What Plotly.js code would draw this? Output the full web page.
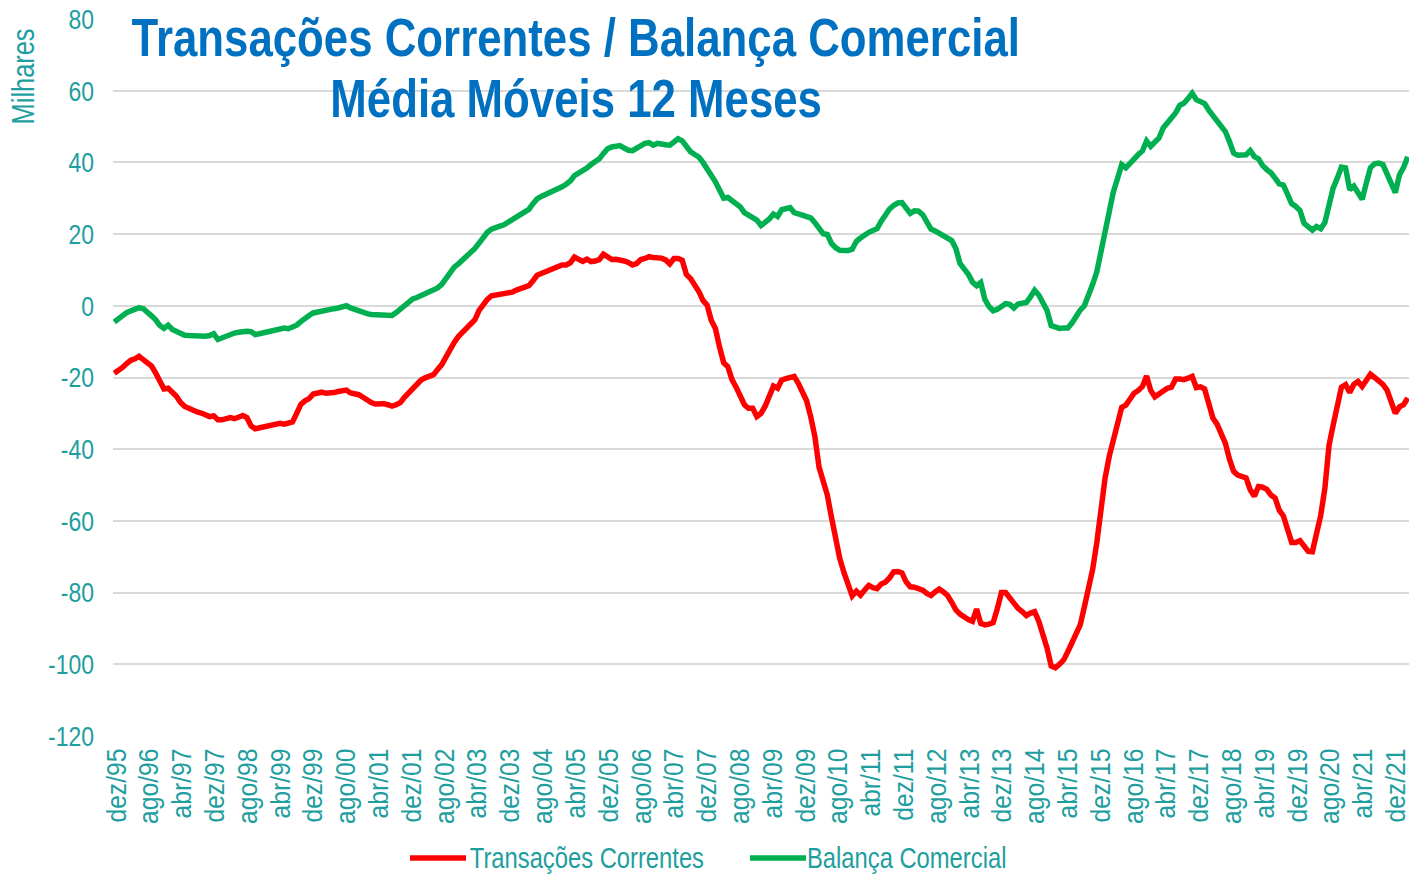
<!DOCTYPE html>
<html>
<head>
<meta charset="utf-8">
<script src="https://cdn.plot.ly/plotly-3.0.1.min.js"></script>
<style>html,body{margin:0;padding:0;background:#fff;}#chart{width:1410px;height:875px;}</style>
</head>
<body>
<div id="chart"></div>
<script>
// Monthly series, dez/95 .. dez/21 (313 months), values in thousands (Milhares)
const transacoesCorrentes = [
  -18.8,
  -18.2,-17.2,-16.1,-15.2,-14.8,-14.1,-15.0,-15.8,-16.8,-18.8,-21.0,-23.2,
  -23.0,-24.2,-25.2,-27.0,-28.1,-28.6,-29.3,-29.6,-29.9,-30.3,-30.9,-30.7,
  -31.8,-31.8,-31.5,-31.2,-31.5,-31.2,-30.6,-31.2,-33.5,-34.3,-34.0,-33.8,
  -33.5,-33.2,-33.0,-32.8,-33.0,-32.6,-32.4,-30.0,-27.5,-26.5,-25.9,-24.6,
  -24.3,-24.1,-24.4,-24.4,-24.2,-23.9,-23.6,-23.5,-24.3,-24.6,-24.8,-25.5,
  -26.4,-27.0,-27.4,-27.2,-27.3,-27.6,-28.0,-27.6,-27.0,-25.5,-24.2,-23.1,
  -21.9,-20.7,-20.1,-19.7,-19.2,-17.8,-16.4,-14.3,-12.0,-10.2,-8.6,-7.3,
  -6.4,-5.0,-3.9,-1.3,0.4,1.8,2.8,3.0,3.1,3.2,3.3,3.8,
  4.4,4.9,5.3,5.6,7.0,8.5,9.0,9.5,10.1,10.6,11.2,11.4,
  11.4,12.0,13.6,13.0,12.4,13.0,12.3,12.5,12.9,14.4,13.7,12.9,
  13.0,12.9,12.5,12.1,11.4,11.8,12.9,13.2,13.7,13.5,13.4,13.3,
  12.8,11.7,13.2,13.2,12.7,8.7,7.6,6.0,4.0,1.5,0.2,-4.0,
  -6.3,-11.5,-15.9,-17.0,-20.6,-22.7,-25.1,-27.6,-28.6,-28.6,-30.9,-30.0,
  -28.0,-25.5,-22.4,-23.0,-20.7,-20.3,-19.9,-19.7,-21.6,-24.5,-26.5,-31.0,
  -36.5,-45.0,-49.5,-52.8,-59.0,-65.8,-70.5,-74.4,-78.0,-80.9,-79.6,-80.7,
  -79.3,-78.0,-78.6,-78.9,-77.6,-77.1,-75.9,-74.2,-74.1,-74.5,-77.0,-78.4,
  -78.5,-78.8,-79.3,-80.2,-80.8,-79.8,-79.0,-79.8,-80.8,-82.7,-84.8,-86.0,
  -87.0,-87.5,-88.0,-84.6,-88.6,-89.0,-88.8,-88.4,-84.5,-80.0,-80.0,-81.5,
  -83.0,-84.4,-85.3,-86.4,-85.7,-85.3,-88.0,-91.5,-95.5,-100.5,-101.0,-100.0,
  -98.8,-96.5,-93.9,-91.2,-89.0,-84.0,-79.0,-73.5,-66.0,-55.5,-48.0,-42.0,
  -37.8,-33.0,-28.3,-27.7,-25.8,-24.4,-23.6,-22.5,-19.6,-23.6,-25.4,-24.6,
  -23.4,-23.0,-22.7,-20.4,-20.4,-20.6,-20.2,-19.7,-22.8,-22.6,-23.2,-27.5,
  -31.3,-33.0,-36.0,-38.3,-42.8,-46.2,-47.2,-47.7,-48.0,-51.3,-53.1,-50.4,
  -50.6,-51.2,-52.8,-53.6,-57.0,-58.6,-62.5,-66.0,-66.0,-65.5,-67.0,-68.5,
  -68.6,-64.0,-58.5,-51.0,-39.0,-33.3,-27.5,-22.7,-22.0,-24.2,-21.9,-21.1,
  -22.5,-20.5,-19.1,-20.0,-20.9,-21.9,-23.5,-27.0,-30.0,-28.2,-27.6,-25.7
];
const balancaComercial = [
  -4.5,
  -3.5,-2.8,-1.9,-1.4,-0.9,-0.5,-0.8,-1.6,-2.8,-3.9,-5.5,-6.3,
  -5.4,-6.6,-7.1,-7.8,-8.2,-8.3,-8.4,-8.5,-8.6,-8.5,-8.3,-7.8,
  -9.4,-8.9,-8.4,-8.0,-7.6,-7.4,-7.2,-7.1,-7.2,-8.0,-7.8,-7.5,
  -7.3,-7.0,-6.8,-6.5,-6.2,-6.4,-6.0,-5.4,-4.4,-3.4,-2.7,-2.0,
  -1.7,-1.4,-1.2,-1.0,-0.8,-0.6,-0.2,0.0,-0.6,-1.1,-1.6,-1.9,
  -2.2,-2.4,-2.5,-2.6,-2.7,-2.8,-2.7,-1.9,-1.0,0.2,1.2,1.9,
  2.3,2.8,3.3,3.7,4.1,5.0,6.0,7.8,9.6,10.8,11.7,12.7,
  13.7,14.7,16.0,17.5,19.3,20.5,21.4,22.0,22.2,22.6,23.3,24.0,
  24.8,25.8,26.3,26.9,28.5,29.8,30.5,31.0,31.4,31.8,32.5,33.2,
  33.9,34.8,36.3,37.0,37.4,38.4,39.4,40.2,41.0,42.5,43.8,44.3,
  44.6,44.7,44.0,43.4,43.3,44.0,45.0,45.3,45.5,44.8,45.3,45.0,
  44.9,44.8,45.6,46.6,46.0,44.3,43.0,42.2,41.5,40.0,38.4,36.7,
  34.6,32.3,30.0,30.2,29.3,28.7,27.6,26.0,25.3,24.8,23.9,22.4,
  23.2,24.2,25.6,24.9,26.8,27.1,27.4,26.0,25.8,25.3,24.9,24.5,
  23.2,21.8,20.1,19.9,17.4,16.2,15.5,15.4,15.4,15.8,18.0,18.9,
  19.8,20.5,21.0,21.5,23.6,25.7,27.0,28.0,28.7,28.8,27.2,25.8,
  26.5,26.4,25.4,23.0,21.4,20.9,20.2,19.3,18.6,18.2,16.0,11.8,
  10.3,8.8,6.6,5.6,6.5,1.8,-0.2,-1.4,-1.0,0.0,0.6,0.4,
  -0.6,0.5,0.9,0.9,2.5,4.3,3.0,0.6,-1.3,-5.5,-6.0,-6.3,
  -6.2,-6.2,-4.8,-2.8,-1.2,0.0,2.8,6.0,9.5,15.5,21.2,27.7,
  31.8,35.5,39.4,38.5,39.8,41.4,42.2,43.2,46.0,44.5,45.5,46.8,
  49.6,51.0,52.0,53.8,55.9,56.5,57.8,59.3,57.5,57.0,56.4,54.6,
  53.0,51.6,50.0,48.6,45.8,42.6,42.0,41.9,42.1,43.3,41.6,41.0,
  39.1,38.0,37.1,35.6,34.0,33.7,31.3,28.5,27.7,26.6,23.0,21.8,
  21.1,22.1,21.5,23.2,28.5,32.8,35.6,38.7,38.5,32.4,33.4,31.6,
  29.7,34.2,38.5,39.6,39.8,39.4,37.0,33.8,31.6,36.5,38.6,41.6
];
const monthNames = ['jan','fev','mar','abr','mai','jun','jul','ago','set','out','nov','dez'];
const startYear = 1995, startMonth = 11; // dez/95
const seriesNames = ['Transações Correntes', 'Balança Comercial'];
const seriesColors = ['#FF0000', '#00B050'];
const yTickValues = [80, 60, 40, 20, 0, -20, -40, -60, -80, -100, -120];
const yTickText = yTickValues.map(v => String(v));
const tickStep = 8;

const months = transacoesCorrentes.map((_, i) => {
  const m = (startMonth + i) % 12;
  const y = startYear + Math.floor((startMonth + i) / 12);
  return monthNames[m] + '/' + String(y % 100).padStart(2, '0');
});
const tickPositions = months.map((_, i) => i).filter(i => i % tickStep === 0);
const tickLabels = tickPositions.map(i => months[i]);

const teal = '#1E9E9E';
const sans = '"Liberation Sans", Arial, sans-serif';

// plot-area pixel helpers for layout placement (title, legend)
const PL = 113, PW = 1296, PT = 19, PH = 717;
const px = v => (v - PL) / PW;
const py = v => (PT + PH - v) / PH;

const traces = [
  {x: months, y: transacoesCorrentes, name: seriesNames[0], type: 'scatter', mode: 'lines',
   line: {color: seriesColors[0], width: 5.5}},
  {x: months, y: balancaComercial, name: seriesNames[1], type: 'scatter', mode: 'lines',
   line: {color: seriesColors[1], width: 5.5}},
  // label carrier for the month axis (draws nothing)
  {x: tickPositions, y: tickPositions.map(() => null), xaxis: 'x2', type: 'scatter', mode: 'lines',
   showlegend: false, hoverinfo: 'skip'}
];

const legendY = 858;
const legendItems = [
  {x0: 410, x1: 466, textCenter: 587},
  {x0: 750, x1: 806, textCenter: 907}
];

const layout = {
  width: 1410, height: 875,
  margin: {l: PL, r: 1410 - PL - PW, t: PT, b: 875 - PT - PH},
  paper_bgcolor: '#fff', plot_bgcolor: '#fff',
  font: {family: sans, color: teal},
  showlegend: false,
  xaxis: {type: 'category', range: [-0.3, months.length - 0.7], showticklabels: false, showgrid: false,
          showline: false, zeroline: false, ticks: '', automargin: false},
  xaxis2: {overlaying: 'x', anchor: 'y', side: 'bottom', type: 'linear', range: [-0.853, 315.17],
           tickvals: tickPositions, ticktext: tickLabels, tickangle: -90, ticklabeloverflow: 'allow',
           tickfont: {size: 28, color: teal, family: sans}, showgrid: false, showline: false,
           zeroline: false, ticks: '', ticklabelstandoff: 6, automargin: false},
  yaxis: {range: [-120, 80], tickvals: yTickValues, ticktext: yTickText, tickfont: {size: 28, color: teal, family: sans},
          showgrid: true, gridcolor: '#D9D9D9', gridwidth: 2, zeroline: false, showline: false,
          ticks: '', ticklabelstandoff: 18, automargin: false},
  shapes: legendItems.map((it, k) => ({
    type: 'line', xref: 'paper', yref: 'paper', x0: px(it.x0), x1: px(it.x1), y0: py(legendY), y1: py(legendY),
    line: {color: seriesColors[k], width: 5.5}
  })),
  annotations: [
    {text: 'Transações Correntes / Balança Comercial', xref: 'paper', yref: 'paper',
     x: px(576), y: py(37), xanchor: 'center', yanchor: 'middle', showarrow: false,
     font: {size: 54, color: '#0070C0', family: sans, weight: 'bold'}},
    {text: 'Média Móveis 12 Meses', xref: 'paper', yref: 'paper',
     x: px(576), y: py(98), xanchor: 'center', yanchor: 'middle', showarrow: false,
     font: {size: 54, color: '#0070C0', family: sans, weight: 'bold'}},
    {text: 'Milhares', xref: 'paper', yref: 'paper', x: px(23), y: py(77),
     xanchor: 'center', yanchor: 'middle', textangle: -90, showarrow: false,
     font: {size: 31, color: teal, family: sans}}
  ].concat(legendItems.map((it, k) => ({
    text: seriesNames[k], xref: 'paper', yref: 'paper', x: px(it.textCenter), y: py(legendY),
    xanchor: 'center', yanchor: 'middle', showarrow: false,
    font: {size: 29, color: teal, family: sans}
  })))
};

// emulate a condensed face by squeezing text along its reading direction
function condenseOne(t, sx) {
  const x = parseFloat(t.getAttribute('x')) || 0;
  const y = parseFloat(t.getAttribute('y')) || 0;
  const tr = t.getAttribute('transform') || '';
  t.setAttribute('transform', (tr + ' translate(' + x + ',' + y + ') scale(' + sx + ',1) translate(' + (-x) + ',' + (-y) + ')').trim());
}

const gd = document.getElementById('chart');
Plotly.newPlot(gd, traces, layout, {displayModeBar: false, staticPlot: true}).then(() => {
  gd.querySelectorAll('g.x2tick text').forEach(t => condenseOne(t, 0.88));
  gd.querySelectorAll('g.ytick text').forEach(t => condenseOne(t, 0.82));
  gd.querySelectorAll('g.annotation').forEach((g, k) => {
    const t = g.querySelector('text.annotation-text');
    if (t) condenseOne(t, k < 2 ? 0.811 : 0.82);
  });
});
</script>
</body>
</html>
